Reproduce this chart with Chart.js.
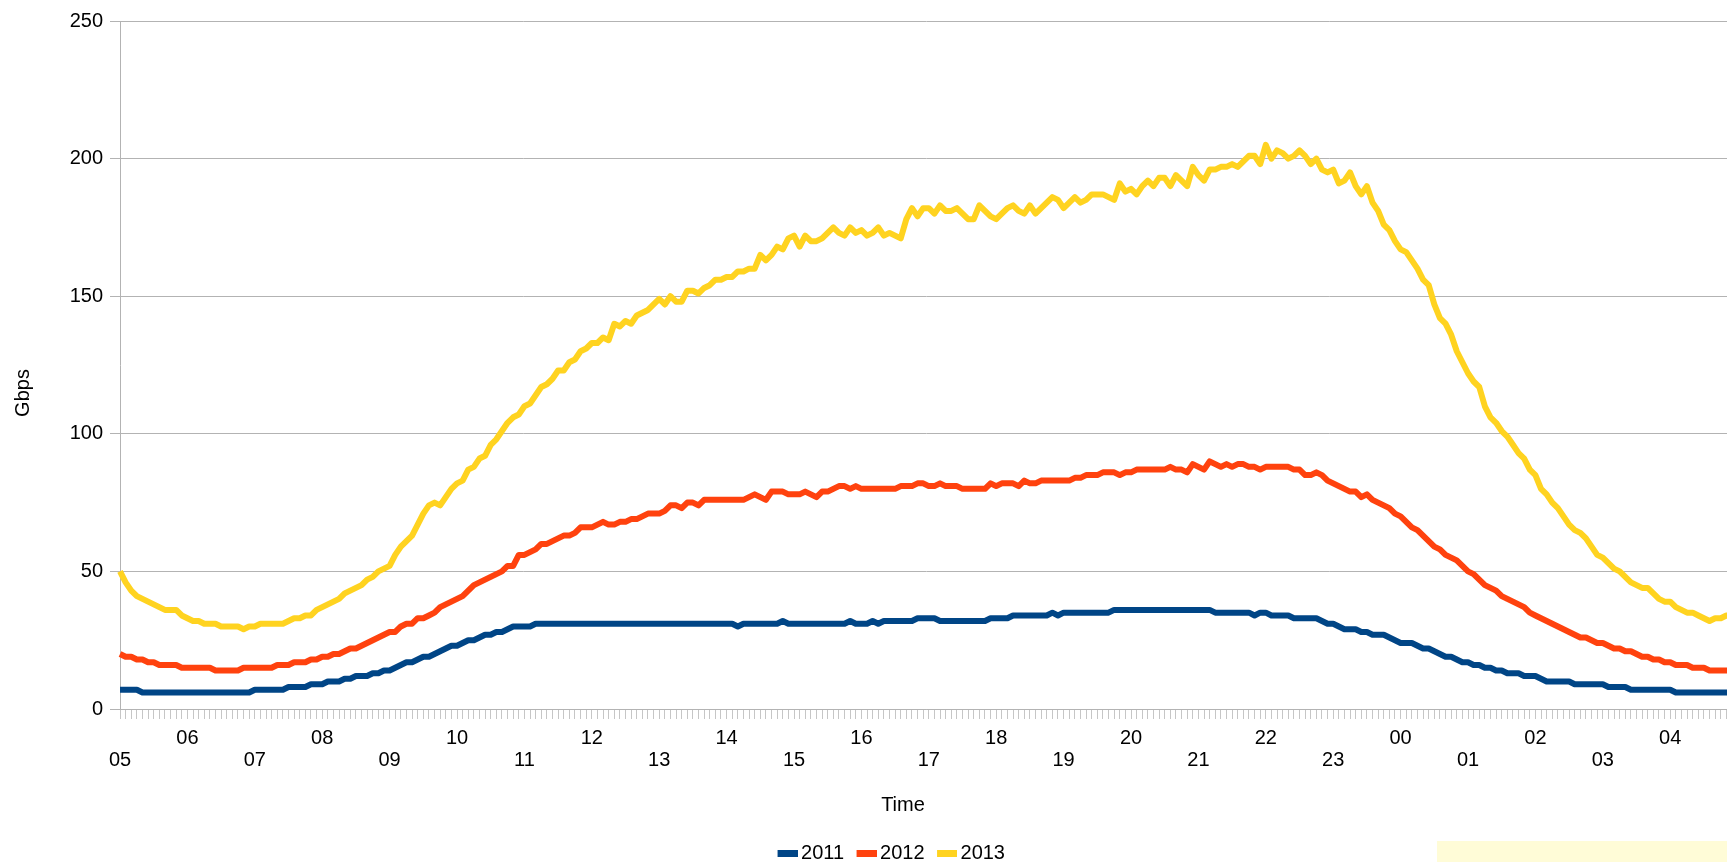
<!DOCTYPE html>
<html>
<head>
<meta charset="utf-8">
<title>Traffic per day</title>
<script src="https://cdn.jsdelivr.net/npm/chart.js@4.4.1/dist/chart.umd.min.js"></script>
<style>
  html, body { margin: 0; padding: 0; background: #fff; overflow: hidden; }
  #wrap { position: relative; width: 1727px; height: 862px; overflow: hidden; }
  #chart-box { position: absolute; left: 0; top: 0; width: 1740px; height: 873px; }
  #marker { position: absolute; left: 1437px; top: 841px; width: 290px; height: 21px; background: #fffcd7; }
</style>
</head>
<body>
<div id="wrap">
  <div id="chart-box"><canvas id="js--chart--traffic"></canvas></div>
  <div id="marker"></div>
</div>
<script>
// uren op de x-as, data per 5 minuten (12 punten per uur)
const hourLabels = ['05', '06', '07', '08', '09', '10', '11', '12', '13', '14', '15', '16',
  '17', '18', '19', '20', '21', '22', '23', '00', '01', '02', '03', '04'];

const seriesNames = ['2011', '2012', '2013'];
const seriesColors = ['#004586', '#ff420e', '#ffd320'];

const gbps2011 = [
  7, 7, 7, 7, 6, 6, 6, 6, 6, 6, 6, 6,
  6, 6, 6, 6, 6, 6, 6, 6, 6, 6, 6, 6,
  7, 7, 7, 7, 7, 7, 8, 8, 8, 8, 9, 9,
  9, 10, 10, 10, 11, 11, 12, 12, 12, 13, 13, 14,
  14, 15, 16, 17, 17, 18, 19, 19, 20, 21, 22, 23,
  23, 24, 25, 25, 26, 27, 27, 28, 28, 29, 30, 30,
  30, 30, 31, 31, 31, 31, 31, 31, 31, 31, 31, 31,
  31, 31, 31, 31, 31, 31, 31, 31, 31, 31, 31, 31,
  31, 31, 31, 31, 31, 31, 31, 31, 31, 31, 31, 31,
  31, 31, 30, 31, 31, 31, 31, 31, 31, 31, 32, 31,
  31, 31, 31, 31, 31, 31, 31, 31, 31, 31, 32, 31,
  31, 31, 32, 31, 32, 32, 32, 32, 32, 32, 33, 33,
  33, 33, 32, 32, 32, 32, 32, 32, 32, 32, 32, 33,
  33, 33, 33, 34, 34, 34, 34, 34, 34, 34, 35, 34,
  35, 35, 35, 35, 35, 35, 35, 35, 35, 36, 36, 36,
  36, 36, 36, 36, 36, 36, 36, 36, 36, 36, 36, 36,
  36, 36, 36, 35, 35, 35, 35, 35, 35, 35, 34, 35,
  35, 34, 34, 34, 34, 33, 33, 33, 33, 33, 32, 31,
  31, 30, 29, 29, 29, 28, 28, 27, 27, 27, 26, 25,
  24, 24, 24, 23, 22, 22, 21, 20, 19, 19, 18, 17,
  17, 16, 16, 15, 15, 14, 14, 13, 13, 13, 12, 12,
  12, 11, 10, 10, 10, 10, 10, 9, 9, 9, 9, 9,
  9, 8, 8, 8, 8, 7, 7, 7, 7, 7, 7, 7,
  7, 6, 6, 6, 6, 6, 6, 6, 6, 6, 6, 6
];

const gbps2012 = [
  20, 19, 19, 18, 18, 17, 17, 16, 16, 16, 16, 15,
  15, 15, 15, 15, 15, 14, 14, 14, 14, 14, 15, 15,
  15, 15, 15, 15, 16, 16, 16, 17, 17, 17, 18, 18,
  19, 19, 20, 20, 21, 22, 22, 23, 24, 25, 26, 27,
  28, 28, 30, 31, 31, 33, 33, 34, 35, 37, 38, 39,
  40, 41, 43, 45, 46, 47, 48, 49, 50, 52, 52, 56,
  56, 57, 58, 60, 60, 61, 62, 63, 63, 64, 66, 66,
  66, 67, 68, 67, 67, 68, 68, 69, 69, 70, 71, 71,
  71, 72, 74, 74, 73, 75, 75, 74, 76, 76, 76, 76,
  76, 76, 76, 76, 77, 78, 77, 76, 79, 79, 79, 78,
  78, 78, 79, 78, 77, 79, 79, 80, 81, 81, 80, 81,
  80, 80, 80, 80, 80, 80, 80, 81, 81, 81, 82, 82,
  81, 81, 82, 81, 81, 81, 80, 80, 80, 80, 80, 82,
  81, 82, 82, 82, 81, 83, 82, 82, 83, 83, 83, 83,
  83, 83, 84, 84, 85, 85, 85, 86, 86, 86, 85, 86,
  86, 87, 87, 87, 87, 87, 87, 88, 87, 87, 86, 89,
  88, 87, 90, 89, 88, 89, 88, 89, 89, 88, 88, 87,
  88, 88, 88, 88, 88, 87, 87, 85, 85, 86, 85, 83,
  82, 81, 80, 79, 79, 77, 78, 76, 75, 74, 73, 71,
  70, 68, 66, 65, 63, 61, 59, 58, 56, 55, 54, 52,
  50, 49, 47, 45, 44, 43, 41, 40, 39, 38, 37, 35,
  34, 33, 32, 31, 30, 29, 28, 27, 26, 26, 25, 24,
  24, 23, 22, 22, 21, 21, 20, 19, 19, 18, 18, 17,
  17, 16, 16, 16, 15, 15, 15, 14, 14, 14, 14, 14
];

const gbps2013 = [
  50, 46, 43, 41, 40, 39, 38, 37, 36, 36, 36, 34,
  33, 32, 32, 31, 31, 31, 30, 30, 30, 30, 29, 30,
  30, 31, 31, 31, 31, 31, 32, 33, 33, 34, 34, 36,
  37, 38, 39, 40, 42, 43, 44, 45, 47, 48, 50, 51,
  52, 56, 59, 61, 63, 67, 71, 74, 75, 74, 77, 80,
  82, 83, 87, 88, 91, 92, 96, 98, 101, 104, 106, 107,
  110, 111, 114, 117, 118, 120, 123, 123, 126, 127, 130, 131,
  133, 133, 135, 134, 140, 139, 141, 140, 143, 144, 145, 147,
  149, 147, 150, 148, 148, 152, 152, 151, 153, 154, 156, 156,
  157, 157, 159, 159, 160, 160, 165, 163, 165, 168, 167, 171,
  172, 168, 172, 170, 170, 171, 173, 175, 173, 172, 175, 173,
  174, 172, 173, 175, 172, 173, 172, 171, 178, 182, 179, 182,
  182, 180, 183, 181, 181, 182, 180, 178, 178, 183, 181, 179,
  178, 180, 182, 183, 181, 180, 183, 180, 182, 184, 186, 185,
  182, 184, 186, 184, 185, 187, 187, 187, 186, 185, 191, 188,
  189, 187, 190, 192, 190, 193, 193, 190, 194, 192, 190, 197,
  194, 192, 196, 196, 197, 197, 198, 197, 199, 201, 201, 198,
  205, 200, 203, 202, 200, 201, 203, 201, 198, 200, 196, 195,
  196, 191, 192, 195, 190, 187, 190, 184, 181, 176, 174, 170,
  167, 166, 163, 160, 156, 154, 147, 142, 140, 136, 130, 126,
  122, 119, 117, 110, 106, 104, 101, 99, 96, 93, 91, 87,
  85, 80, 78, 75, 73, 70, 67, 65, 64, 62, 59, 56,
  55, 53, 51, 50, 48, 46, 45, 44, 44, 42, 40, 39,
  39, 37, 36, 35, 35, 34, 33, 32, 33, 33, 34, 34
];

const yTicks = [0, 50, 100, 150, 200, 250];

// categorieen: 05:00, 05:05, ... 04:55
const times = [];
hourLabels.forEach(h => {
  for (let m = 0; m < 60; m += 5) {
    times.push(h + ':' + m.toString().padStart(2, '0'));
  }
});

const baseFont = { family: '"Liberation Sans", Arial, sans-serif', size: 20, lineHeight: 1.1 };

// legenda-blokje: streepje rechts in een iets breder plaatje, zodat de tekst er dicht tegenaan staat
function legendSwatch(color) {
  const c = document.createElement('canvas');
  c.width = 27;
  c.height = 7;
  const g = c.getContext('2d');
  g.fillStyle = color;
  g.fillRect(7, 0, 20, 7);
  return c;
}
const swatches = seriesColors.map(legendSwatch);

// as-titels staan in het origineel niet gecentreerd, dus zelf tekenen
const axisTitles = {
  id: 'axisTitles',
  afterDraw(chart) {
    const c = chart.ctx;
    c.save();
    c.fillStyle = '#000';
    c.font = '20px "Liberation Sans", Arial, sans-serif';
    c.textAlign = 'center';
    c.textBaseline = 'middle';
    c.fillText('Time', 903, 805);
    c.translate(23, 393);
    c.rotate(-Math.PI / 2);
    c.fillText('Gbps', 0, 0);
    c.restore();
  }
};

const ctx = document.getElementById('js--chart--traffic');

if (ctx) {
  new Chart(ctx, {
    type: 'line',
    data: {
      labels: times,
      datasets: [gbps2011, gbps2012, gbps2013].map((values, i) => ({
        label: seriesNames[i],
        data: values,
        borderColor: seriesColors[i],
        backgroundColor: seriesColors[i],
        borderWidth: 6,
        pointRadius: 0,
        tension: 0,
        borderJoinStyle: 'round',
        fill: false
      }))
    },
    options: {
      responsive: true,
      maintainAspectRatio: false,
      animation: false,
      events: [],
      layout: {
        padding: { top: 21, left: 43, right: 1, bottom: 0 }
      },
      scales: {
        x: {
          type: 'category',
          offset: false,
          grid: { drawOnChartArea: false, drawTicks: true, tickLength: 10, color: '#c6c6c6' },
          border: { color: '#b3b3b3' },
          ticks: {
            autoSkip: false,
            maxRotation: 0,
            minRotation: 0,
            padding: 8,
            color: '#000',
            font: baseFont,
            callback: (value, index) => {
              if (index % 12 !== 0) return '';
              const h = index / 12;
              return h % 2 === 0 ? ['', hourLabels[h]] : [hourLabels[h]];
            }
          },
          afterFit: scale => { scale.height = 122; }
        },
        y: {
          min: yTicks[0],
          max: yTicks[yTicks.length - 1],
          afterBuildTicks: scale => { scale.ticks = yTicks.map(v => ({ value: v })); },
          grid: { color: '#b3b3b3', tickLength: 10 },
          border: { color: '#b3b3b3' },
          ticks: { padding: 7, color: '#000', font: baseFont },
          afterFit: scale => { scale.width = 77; }
        }
      },
      plugins: {
        legend: {
          position: 'bottom',
          labels: {
            usePointStyle: true,
            boxWidth: 14,
            boxHeight: 7,
            padding: 12,
            color: '#000',
            font: baseFont,
            generateLabels: chart => {
              const items = Chart.defaults.plugins.legend.labels.generateLabels(chart);
              items.forEach((item, i) => {
                item.pointStyle = swatches[i];
                item.lineWidth = 0;
              });
              return items;
            }
          }
        },
        tooltip: { enabled: false },
        title: { display: false }
      }
    },
    plugins: [axisTitles]
  });
}
</script>
</body>
</html>
